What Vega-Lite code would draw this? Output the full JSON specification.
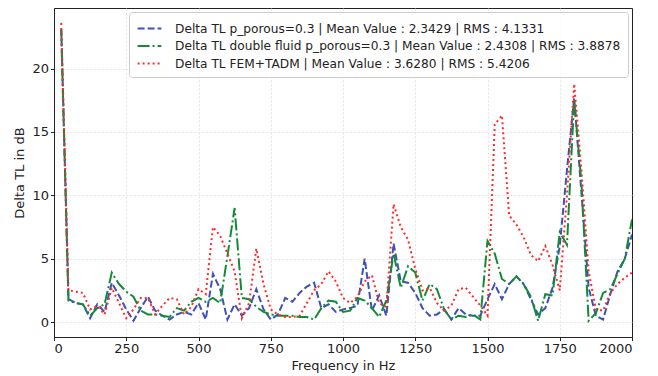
{
  "$schema": "https://vega.github.io/schema/vega-lite/v6.json",
  "width": 578,
  "height": 329,
  "autosize": {"type": "none"},
  "padding": {"left": 54, "top": 8, "right": 26, "bottom": 39},
  "background": "white",
  "config": {
    "font": "DejaVu Sans",
    "view": {"stroke": "#222222", "strokeWidth": 1},
    "axis": {
      "labelFont": "DejaVu Sans",
      "titleFont": "DejaVu Sans",
      "labelFontSize": 13,
      "titleFontSize": 13,
      "titleFontWeight": "normal",
      "labelColor": "#222222",
      "titleColor": "#222222",
      "domainColor": "#222222",
      "tickColor": "#222222",
      "tickSize": 3.5,
      "labelPadding": 2,
      "gridColor": "#dddddd",
      "gridDash": [2, 2],
      "gridWidth": 0.8
    }
  },
  "data": {
    "values": [
      {"f":25,"s":"A","v":23.1},{"f":50,"s":"A","v":1.8},{"f":75,"s":"A","v":1.5},{"f":100,"s":"A","v":1.4},{"f":125,"s":"A","v":0.3},{"f":150,"s":"A","v":1.4},{"f":175,"s":"A","v":0.8},{"f":200,"s":"A","v":3.1},{"f":225,"s":"A","v":2.1},{"f":250,"s":"A","v":1.0},{"f":275,"s":"A","v":0.1},{"f":300,"s":"A","v":1.1},{"f":325,"s":"A","v":2.0},{"f":350,"s":"A","v":0.9},{"f":375,"s":"A","v":0.5},{"f":400,"s":"A","v":0.2},{"f":425,"s":"A","v":0.6},{"f":450,"s":"A","v":0.8},{"f":475,"s":"A","v":0.6},{"f":500,"s":"A","v":1.5},{"f":525,"s":"A","v":0.2},{"f":550,"s":"A","v":3.8},{"f":575,"s":"A","v":2.6},{"f":600,"s":"A","v":0.2},{"f":625,"s":"A","v":1.4},{"f":650,"s":"A","v":0.5},{"f":675,"s":"A","v":1.1},{"f":700,"s":"A","v":2.6},{"f":725,"s":"A","v":1.0},{"f":750,"s":"A","v":0.2},{"f":775,"s":"A","v":0.6},{"f":800,"s":"A","v":1.9},{"f":825,"s":"A","v":1.6},{"f":850,"s":"A","v":2.3},{"f":875,"s":"A","v":2.8},{"f":900,"s":"A","v":3.1},{"f":925,"s":"A","v":1.1},{"f":950,"s":"A","v":1.4},{"f":975,"s":"A","v":0.8},{"f":1000,"s":"A","v":1.0},{"f":1025,"s":"A","v":1.1},{"f":1050,"s":"A","v":1.3},{"f":1075,"s":"A","v":5.0},{"f":1100,"s":"A","v":0.9},{"f":1125,"s":"A","v":2.1},{"f":1150,"s":"A","v":0.5},{"f":1175,"s":"A","v":6.2},{"f":1200,"s":"A","v":3.2},{"f":1225,"s":"A","v":3.1},{"f":1250,"s":"A","v":2.3},{"f":1275,"s":"A","v":1.1},{"f":1300,"s":"A","v":0.5},{"f":1325,"s":"A","v":0.6},{"f":1350,"s":"A","v":1.0},{"f":1375,"s":"A","v":0.2},{"f":1400,"s":"A","v":1.1},{"f":1425,"s":"A","v":0.6},{"f":1450,"s":"A","v":0.5},{"f":1475,"s":"A","v":0.5},{"f":1500,"s":"A","v":1.8},{"f":1525,"s":"A","v":3.0},{"f":1550,"s":"A","v":1.8},{"f":1575,"s":"A","v":3.0},{"f":1600,"s":"A","v":3.6},{"f":1625,"s":"A","v":3.0},{"f":1650,"s":"A","v":1.8},{"f":1675,"s":"A","v":0.6},{"f":1700,"s":"A","v":1.1},{"f":1725,"s":"A","v":2.7},{"f":1750,"s":"A","v":6.0},{"f":1775,"s":"A","v":12.0},{"f":1800,"s":"A","v":17.7},{"f":1825,"s":"A","v":10.2},{"f":1850,"s":"A","v":2.7},{"f":1875,"s":"A","v":0.5},{"f":1900,"s":"A","v":0.2},{"f":1925,"s":"A","v":2.2},{"f":1950,"s":"A","v":4.0},{"f":1975,"s":"A","v":5.0},{"f":2000,"s":"A","v":6.9},

      {"f":25,"s":"B","v":23.1},{"f":50,"s":"B","v":1.7},{"f":75,"s":"B","v":1.5},{"f":100,"s":"B","v":1.4},{"f":125,"s":"B","v":0.5},{"f":150,"s":"B","v":1.1},{"f":175,"s":"B","v":1.4},{"f":200,"s":"B","v":3.9},{"f":225,"s":"B","v":3.0},{"f":250,"s":"B","v":2.4},{"f":275,"s":"B","v":2.0},{"f":300,"s":"B","v":0.9},{"f":325,"s":"B","v":0.6},{"f":350,"s":"B","v":0.6},{"f":375,"s":"B","v":0.5},{"f":400,"s":"B","v":0.4},{"f":425,"s":"B","v":1.1},{"f":450,"s":"B","v":0.9},{"f":475,"s":"B","v":1.6},{"f":500,"s":"B","v":1.9},{"f":525,"s":"B","v":1.6},{"f":550,"s":"B","v":1.9},{"f":575,"s":"B","v":1.5},{"f":600,"s":"B","v":5.2},{"f":625,"s":"B","v":9.0},{"f":650,"s":"B","v":1.9},{"f":675,"s":"B","v":1.8},{"f":700,"s":"B","v":1.2},{"f":725,"s":"B","v":0.8},{"f":750,"s":"B","v":0.6},{"f":775,"s":"B","v":0.5},{"f":800,"s":"B","v":0.5},{"f":825,"s":"B","v":0.5},{"f":850,"s":"B","v":0.4},{"f":875,"s":"B","v":0.4},{"f":900,"s":"B","v":0.2},{"f":925,"s":"B","v":1.1},{"f":950,"s":"B","v":1.7},{"f":975,"s":"B","v":1.6},{"f":1000,"s":"B","v":0.8},{"f":1025,"s":"B","v":0.9},{"f":1050,"s":"B","v":1.9},{"f":1075,"s":"B","v":1.7},{"f":1100,"s":"B","v":1.1},{"f":1125,"s":"B","v":0.4},{"f":1150,"s":"B","v":1.7},{"f":1175,"s":"B","v":5.4},{"f":1200,"s":"B","v":2.7},{"f":1225,"s":"B","v":4.4},{"f":1250,"s":"B","v":3.9},{"f":1275,"s":"B","v":1.7},{"f":1300,"s":"B","v":3.0},{"f":1325,"s":"B","v":2.6},{"f":1350,"s":"B","v":1.0},{"f":1375,"s":"B","v":0.2},{"f":1400,"s":"B","v":0.5},{"f":1425,"s":"B","v":0.4},{"f":1450,"s":"B","v":0.6},{"f":1475,"s":"B","v":0.2},{"f":1500,"s":"B","v":6.4},{"f":1525,"s":"B","v":5.4},{"f":1550,"s":"B","v":3.4},{"f":1575,"s":"B","v":3.0},{"f":1600,"s":"B","v":3.6},{"f":1625,"s":"B","v":3.0},{"f":1650,"s":"B","v":2.0},{"f":1675,"s":"B","v":0.1},{"f":1700,"s":"B","v":2.2},{"f":1725,"s":"B","v":2.1},{"f":1750,"s":"B","v":7.1},{"f":1775,"s":"B","v":6.1},{"f":1800,"s":"B","v":17.5},{"f":1825,"s":"B","v":11.0},{"f":1850,"s":"B","v":0.1},{"f":1875,"s":"B","v":0.7},{"f":1900,"s":"B","v":2.3},{"f":1925,"s":"B","v":2.6},{"f":1950,"s":"B","v":3.8},{"f":1975,"s":"B","v":5.0},{"f":2000,"s":"B","v":8.1},

      {"f":25,"s":"C","v":23.6},{"f":50,"s":"C","v":2.5},{"f":75,"s":"C","v":2.4},{"f":100,"s":"C","v":2.3},{"f":125,"s":"C","v":1.0},{"f":150,"s":"C","v":1.3},{"f":175,"s":"C","v":0.6},{"f":200,"s":"C","v":2.7},{"f":225,"s":"C","v":1.5},{"f":250,"s":"C","v":0.3},{"f":275,"s":"C","v":1.0},{"f":300,"s":"C","v":1.9},{"f":325,"s":"C","v":1.9},{"f":350,"s":"C","v":0.6},{"f":375,"s":"C","v":1.3},{"f":400,"s":"C","v":1.9},{"f":425,"s":"C","v":1.8},{"f":450,"s":"C","v":0.6},{"f":475,"s":"C","v":1.2},{"f":500,"s":"C","v":2.6},{"f":525,"s":"C","v":2.2},{"f":550,"s":"C","v":7.5},{"f":575,"s":"C","v":6.8},{"f":600,"s":"C","v":5.4},{"f":625,"s":"C","v":4.0},{"f":650,"s":"C","v":0.3},{"f":675,"s":"C","v":1.5},{"f":700,"s":"C","v":5.8},{"f":725,"s":"C","v":3.0},{"f":750,"s":"C","v":1.0},{"f":775,"s":"C","v":0.6},{"f":800,"s":"C","v":0.4},{"f":825,"s":"C","v":0.4},{"f":850,"s":"C","v":0.5},{"f":875,"s":"C","v":1.5},{"f":900,"s":"C","v":2.5},{"f":925,"s":"C","v":3.0},{"f":950,"s":"C","v":4.0},{"f":975,"s":"C","v":3.2},{"f":1000,"s":"C","v":1.9},{"f":1025,"s":"C","v":1.5},{"f":1050,"s":"C","v":2.0},{"f":1075,"s":"C","v":3.2},{"f":1100,"s":"C","v":3.7},{"f":1125,"s":"C","v":1.5},{"f":1150,"s":"C","v":1.2},{"f":1175,"s":"C","v":9.3},{"f":1200,"s":"C","v":7.5},{"f":1225,"s":"C","v":6.5},{"f":1250,"s":"C","v":4.2},{"f":1275,"s":"C","v":2.5},{"f":1300,"s":"C","v":2.7},{"f":1325,"s":"C","v":1.5},{"f":1350,"s":"C","v":0.9},{"f":1375,"s":"C","v":1.3},{"f":1400,"s":"C","v":2.6},{"f":1425,"s":"C","v":2.7},{"f":1450,"s":"C","v":2.0},{"f":1475,"s":"C","v":1.3},{"f":1500,"s":"C","v":0.5},{"f":1525,"s":"C","v":15.6},{"f":1550,"s":"C","v":16.3},{"f":1575,"s":"C","v":8.4},{"f":1600,"s":"C","v":7.7},{"f":1625,"s":"C","v":6.7},{"f":1650,"s":"C","v":5.3},{"f":1675,"s":"C","v":4.8},{"f":1700,"s":"C","v":6.0},{"f":1725,"s":"C","v":4.5},{"f":1750,"s":"C","v":2.5},{"f":1775,"s":"C","v":10.0},{"f":1800,"s":"C","v":18.8},{"f":1825,"s":"C","v":12.0},{"f":1850,"s":"C","v":4.0},{"f":1875,"s":"C","v":1.0},{"f":1900,"s":"C","v":0.9},{"f":1925,"s":"C","v":2.3},{"f":1950,"s":"C","v":3.0},{"f":1975,"s":"C","v":3.5},{"f":2000,"s":"C","v":3.9}
    ]
  },
  "transform": [
    {"lookup": "s", "from": {"data": {"values": [
      {"s": "A", "label": "Delta TL p_porous=0.3 | Mean Value : 2.3429 | RMS : 4.1331"},
      {"s": "B", "label": "Delta TL double fluid p_porous=0.3 | Mean Value : 2.4308 | RMS : 3.8878"},
      {"s": "C", "label": "Delta TL FEM+TADM | Mean Value : 3.6280 | RMS : 5.4206"}
    ]}, "key": "s", "fields": ["label"]}}
  ],
  "mark": {"type": "line", "strokeWidth": 2, "clip": true},
  "encoding": {
    "x": {
      "field": "f", "type": "quantitative",
      "scale": {"domain": [0, 2000], "nice": false},
      "axis": {
        "values": [0, 250, 500, 750, 1000, 1250, 1500, 1750, 2000],
        "format": "d",
        "title": "Frequency in Hz",
        "titlePadding": 4,
        "gridOpacity": {"condition": {"test": "datum.value === 0 || datum.value === 2000", "value": 0}, "value": 1}
      }
    },
    "y": {
      "field": "v", "type": "quantitative",
      "scale": {"domain": [-1.18, 24.78], "nice": false, "zero": false},
      "axis": {"values": [0, 5, 10, 15, 20], "format": "d", "title": "Delta TL in dB", "titlePadding": 5}
    },
    "color": {
      "field": "label", "type": "nominal",
      "scale": {
        "domain": [
          "Delta TL p_porous=0.3 | Mean Value : 2.3429 | RMS : 4.1331",
          "Delta TL double fluid p_porous=0.3 | Mean Value : 2.4308 | RMS : 3.8878",
          "Delta TL FEM+TADM | Mean Value : 3.6280 | RMS : 5.4206"
        ],
        "range": ["#3f51b5", "#138a36", "#ff2a2a"]
      },
      "legend": {
        "title": null,
        "orient": "top-right",
        "offset": 4,
        "padding": 7,
        "fillColor": "rgba(255,255,255,0.85)",
        "strokeColor": "#cccccc",
        "cornerRadius": 3,
        "labelFontSize": 12.2,
        "labelFont": "DejaVu Sans",
        "labelColor": "#222222",
        "labelLimit": 0,
        "symbolType": "M-1.4,0H1.4",
        "symbolSize": 289,
        "symbolStrokeWidth": 2,
        "symbolOffset": 4,
        "rowPadding": 1.5,
        "labelOffset": 16
      }
    },
    "strokeDash": {
      "field": "label", "type": "nominal",
      "scale": {
        "domain": [
          "Delta TL p_porous=0.3 | Mean Value : 2.3429 | RMS : 4.1331",
          "Delta TL double fluid p_porous=0.3 | Mean Value : 2.4308 | RMS : 3.8878",
          "Delta TL FEM+TADM | Mean Value : 3.6280 | RMS : 5.4206"
        ],
        "range": [[7, 3], [12, 3, 2, 3], [2, 3]]
      },
      "legend": null
    }
  }
}
